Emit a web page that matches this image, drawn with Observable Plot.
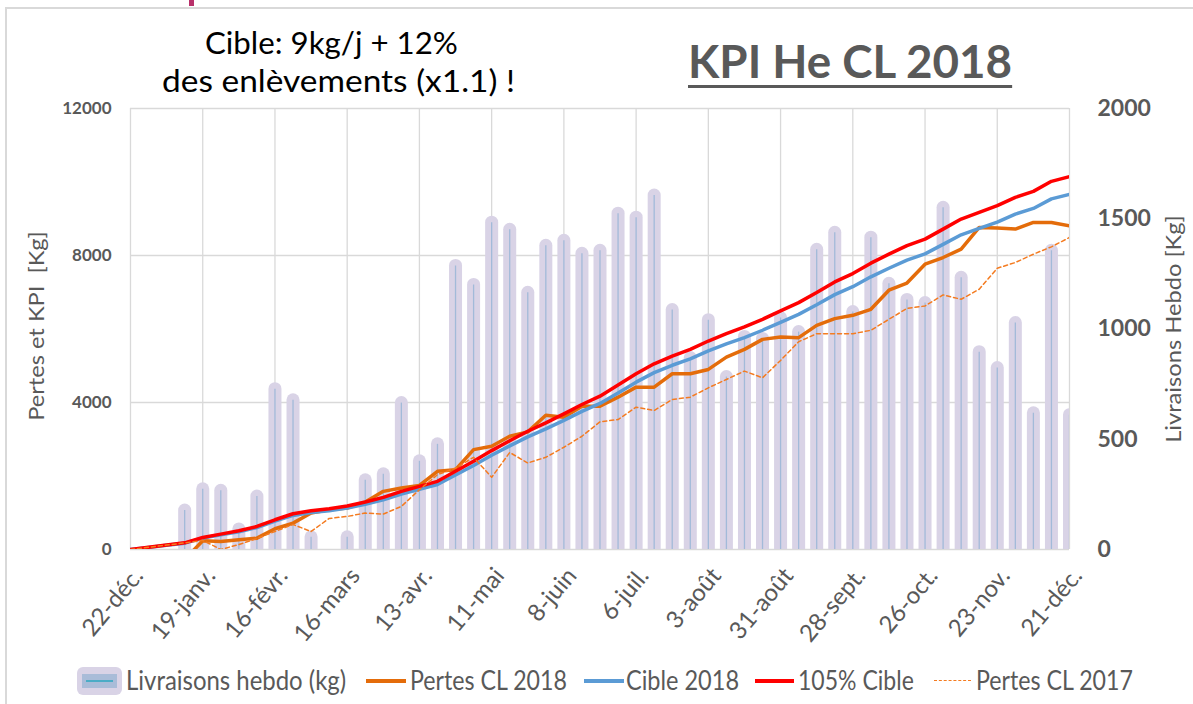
<!DOCTYPE html>
<html><head><meta charset="utf-8">
<script src="https://cdn.jsdelivr.net/npm/d3@7"></script>
<script src="https://cdn.jsdelivr.net/npm/@observablehq/plot@0.6"></script>
<style>
body{margin:0;background:#fff;}
#wrap{position:relative;width:1193px;height:704px;overflow:hidden;font-family:Lato,"Open Sans",sans-serif;background:#fff;}
.t{position:absolute;white-space:pre;line-height:1;display:inline-block;}
.deco{position:absolute;}
</style></head><body><div id="wrap"></div>
<script>
// ---- data ----
const tickLabels = ["22-déc.","19-janv.","16-févr.","16-mars","13-avr.","11-mai","8-juin","6-juil.","3-août","31-août","28-sept.","26-oct.","23-nov.","21-déc."];
const livraisons = [0,0,0,177,273,266,91,240,727,677,55,0,55,314,341,664,400,477,1286,1200,1482,1450,1164,1377,1400,1341,1355,1523,1505,1605,1086,868,1040,782,964,955,1050,986,1359,1436,1077,1414,1205,1132,1118,1550,1232,895,823,1027,618,1355,609];
const pertes2018 = [null,null,null,-270,236,218,264,309,564,718,991,1082,1127,1291,1582,1673,1745,2127,2173,2718,2809,3082,3200,3655,3600,3900,3900,4145,4418,4418,4782,4782,4900,5236,5445,5718,5782,5764,6100,6282,6373,6536,7055,7250,7764,7945,8173,8764,8745,8718,8900,8900,8809];
const cible2018 = [0,57,114,173,311,398,485,597,770,927,1005,1056,1126,1230,1350,1507,1636,1767,2026,2286,2563,2819,3065,3281,3514,3757,3974,4260,4554,4813,5013,5186,5403,5593,5767,5966,6182,6398,6658,6935,7151,7420,7653,7876,8043,8303,8563,8736,8910,9126,9281,9541,9662];
const cible105 = [0,60,120,182,327,418,509,627,809,973,1055,1109,1182,1291,1418,1582,1718,1855,2127,2400,2691,2960,3218,3445,3690,3945,4173,4473,4782,5054,5264,5445,5673,5873,6055,6264,6491,6718,6991,7282,7509,7791,8036,8270,8445,8718,8991,9173,9355,9582,9745,10018,10145];
const pertes2017 = [0,60,120,180,250,0,136,300,490,680,490,845,900,991,964,1173,1627,2036,2218,2509,1964,2640,2355,2509,2782,3082,3473,3536,3873,3782,4082,4145,4400,4627,4855,4673,5145,5654,5873,5873,5873,5964,6264,6560,6627,6927,6809,7082,7655,7809,8036,8236,8491];
const leftTicks = [0,4000,8000,12000];
const rightTicks = [0,500,1000,1500,2000];
const seriesNames = ["Livraisons hebdo (kg)","Pertes CL 2018","Cible 2018","105% Cible","Pertes CL 2017"];

const colors = {liv:"#d9d3e6", livLine:"#a2bad9", p18:"#e46c0a", cible:"#5b9bd5", c105:"#ff0000", p17:"#f47b20"};
const ratio = 12000 / 2000; // right axis -> left axis

const rows = livraisons.map((v, i) => ({i, liv: v, p18: pertes2018[i], cible: cible2018[i], c105: cible105[i], p17: pertes2017[i]}));
const tickIdx = tickLabels.map((_, k) => k * 4);

const chart = Plot.plot({
  width: 1193, height: 704,
  marginLeft: 130, marginRight: 124, marginTop: 108, marginBottom: 155,
  style: {fontFamily: "Lato, 'Open Sans', sans-serif", color: "#595959", background: "transparent", overflow: "visible"},
  x: {domain: [0, 52]},
  y: {domain: [0, 12000]},
  marks: [
    Plot.gridX(tickIdx, {stroke: "#d9d9d9", strokeOpacity: 1, strokeWidth: 1.3}),
    Plot.gridY(leftTicks, {stroke: "#d9d9d9", strokeOpacity: 1, strokeWidth: 1.3}),
    Plot.ruleX(rows.filter(d => d.liv > 0), {x: "i", y1: 0, y2: d => d.liv * ratio, stroke: colors.liv, strokeWidth: 13, strokeLinecap: "round", clip: true}),
    Plot.ruleX(rows.filter(d => d.liv > 0), {x: "i", y1: 0, y2: d => d.liv * ratio, stroke: colors.livLine, strokeWidth: 1.3, clip: true}),
    Plot.lineY(rows, {x: "i", y: "p18", stroke: colors.p18, strokeWidth: 3.5, clip: true}),
    Plot.lineY(rows, {x: "i", y: "cible", stroke: colors.cible, strokeWidth: 3.5, clip: true}),
    Plot.lineY(rows, {x: "i", y: "c105", stroke: colors.c105, strokeWidth: 3.5, clip: true}),
    Plot.lineY(rows, {x: "i", y: "p17", stroke: colors.p17, strokeWidth: 1.5, strokeDasharray: "4,3", clip: true}),
    Plot.axisX(tickIdx, {tickFormat: d => tickLabels[d / 4], tickRotate: -50, tickSize: 0, tickPadding: 22, dx: 8, fontSize: 24, label: null, fill: "#595959"}),
    Plot.axisY(leftTicks, {anchor: "left", tickSize: 0, tickPadding: 19, fontSize: 17, fontWeight: "bold", label: null, fill: "#595959", tickFormat: d => String(d)}),
    Plot.axisY(rightTicks.map(v => v * ratio), {anchor: "right", tickSize: 0, tickPadding: 28, fontSize: 23, fontWeight: "bold", label: null, fill: "#595959", tickFormat: d => String(d / ratio)})
  ]
});
chart.style.position = "absolute";
chart.style.left = "0px";
chart.style.top = "0px";
const wrap = document.getElementById("wrap");
wrap.appendChild(chart);

// decorations (frame of the original slide)
function deco(css) { const d = document.createElement("div"); d.className = "deco"; Object.assign(d.style, css); wrap.appendChild(d); return d; }
deco({left: "5px", top: "7px", width: "1188px", height: "1.5px", background: "#d9d9d9"});
deco({left: "5px", top: "7px", width: "1.5px", height: "700px", background: "#d9d9d9"});
deco({left: "189px", top: "0px", width: "5px", height: "6px", background: "#b8306a"});

// text helper: place left edge, fit width by horizontal scaling
function text(str, css, targetW) {
  const el = document.createElement("div");
  el.className = "t";
  el.textContent = str;
  Object.assign(el.style, css);
  wrap.appendChild(el);
  const s = targetW ? targetW / el.offsetWidth : 1;
  el.style.transformOrigin = "left center";
  el.style.transform = `scaleX(${s})`;
  return el;
}

// Titles
text("Cible: 9kg/j + 12%", {left: "205px", top: "27px", fontSize: "31px", color: "#000"}, 253);
text("des enlèvements (x1.1) !", {left: "162px", top: "65px", fontSize: "31px", color: "#000"}, 353);
text("KPI He CL 2018", {left: "688px", top: "38px", fontSize: "46px", fontWeight: "bold", color: "#595959", textDecoration: "underline", textDecorationThickness: "3px", textUnderlineOffset: "7px"}, 324);

// Axis titles (rotated)
function vtitle(str, cx, cy, len) {
  const el = document.createElement("div");
  el.className = "t";
  el.textContent = str;
  Object.assign(el.style, {fontSize: "22px", color: "#595959", left: "0px", top: "0px"});
  wrap.appendChild(el);
  const w = el.offsetWidth, h = el.offsetHeight;
  const s = len / w;
  el.style.left = (cx - w / 2) + "px";
  el.style.top = (cy - h / 2) + "px";
  el.style.transformOrigin = "center center";
  el.style.transform = `rotate(-90deg) scaleX(${s})`;
}
vtitle("Pertes et KPI  [Kg]", 36, 326, 190);
vtitle("Livraisons Hebdo [Kg]", 1173, 329, 228);

// Legend
const legY = 681;
deco({left: "77px", top: (legY - 14) + "px", width: "45px", height: "28px", background: colors.liv, borderRadius: "6px"});
deco({left: "82px", top: (legY - 7) + "px", width: "35px", height: "14px", background: "#a9bcd8"});
deco({left: "86px", top: (legY - 1) + "px", width: "27px", height: "2px", background: "#4bacc6"});
function legLine(x1, x2, color, dashed, w) {
  return deco({left: x1 + "px", top: (legY - w / 2) + "px", width: (x2 - x1) + "px", height: "0px", borderTop: `${w}px ${dashed ? "dashed" : "solid"} ${color}`});
}
legLine(366, 406, colors.p18, false, 4);
legLine(584, 624, colors.cible, false, 4);
legLine(755, 794, colors.c105, false, 4);
legLine(934, 971, colors.p17, true, 1.5);
const legPos = [[126, 220], [410, 157], [626, 113], [798, 116], [976, 157]];
seriesNames.forEach((n, k) => {
  text(n, {left: legPos[k][0] + "px", top: (legY - 14) + "px", fontSize: "26px", color: "#595959"}, legPos[k][1]);
});
</script>
</body></html>
